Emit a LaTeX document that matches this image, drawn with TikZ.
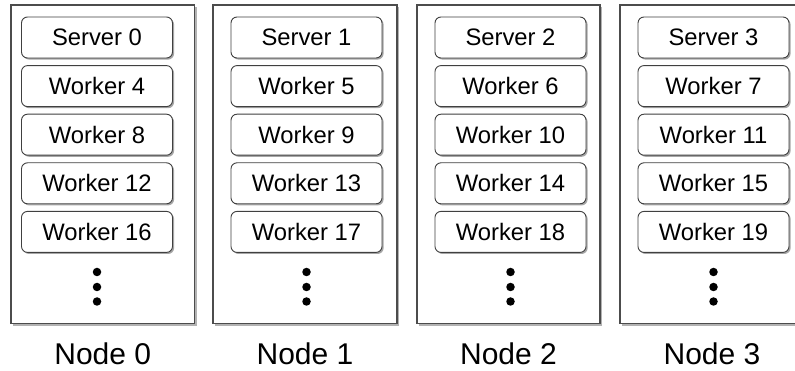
\documentclass[tikz,border=0pt]{standalone}
\usepackage{fontspec}
\setmainfont{Liberation Sans}
\usetikzlibrary{shadows}
\begin{document}
\begin{tikzpicture}[x=1pt,y=-1pt,
  hostbox/.style={draw=black!70, line width=1.8pt, fill=white,
    minimum width=183.5pt, minimum height=318.5pt, inner sep=0pt,
    drop shadow={shadow xshift=2pt, shadow yshift=-2pt, fill=black!30, opacity=1}},
  procbox/.style={draw=black!75, line width=0.9pt, fill=white, rounded corners=6pt,
    minimum width=151pt, minimum height=41pt, inner sep=0pt,
    font=\fontsize{23.8}{28}\selectfont,
    drop shadow={shadow xshift=1.6pt, shadow yshift=-1.6pt, fill=black!35, opacity=1}},
  ellipsisdot/.style={circle, fill=black, minimum size=8.5pt, inner sep=0pt},
  hostlabel/.style={font=\fontsize{30}{35}\selectfont, inner sep=0pt}]
  \clip (0,0) rectangle (795,371);
  \useasboundingbox (0,0) rectangle (795,371);
  % one column per host: host frame, server, four workers, ellipsis and label
  \foreach \c/\hx/\ix in {0/102.75/97, 1/305/306.5, 2/508.5/510.5, 3/712/713.5} {
    \node[hostbox] (host\c) at (\hx,164.25) {};
    \node[procbox] (srv\c) at (\ix,37.5) {Server \c};
    \foreach \r in {1,...,4} {
      \pgfmathtruncatemacro{\w}{\c+4*\r}
      \node[procbox] (wrk\w) at (\ix,37.5+48.6*\r) {Worker \w};
    }
    \node[ellipsisdot] (dota\c) at (\ix,272) {};
    \node[ellipsisdot] (dotb\c) at (\ix,287) {};
    \node[ellipsisdot] (dotc\c) at (\ix,301.5) {};
    \node[hostlabel] (lab\c) at (\hx,353.5) {Node \c};
  }
\end{tikzpicture}
\end{document}
